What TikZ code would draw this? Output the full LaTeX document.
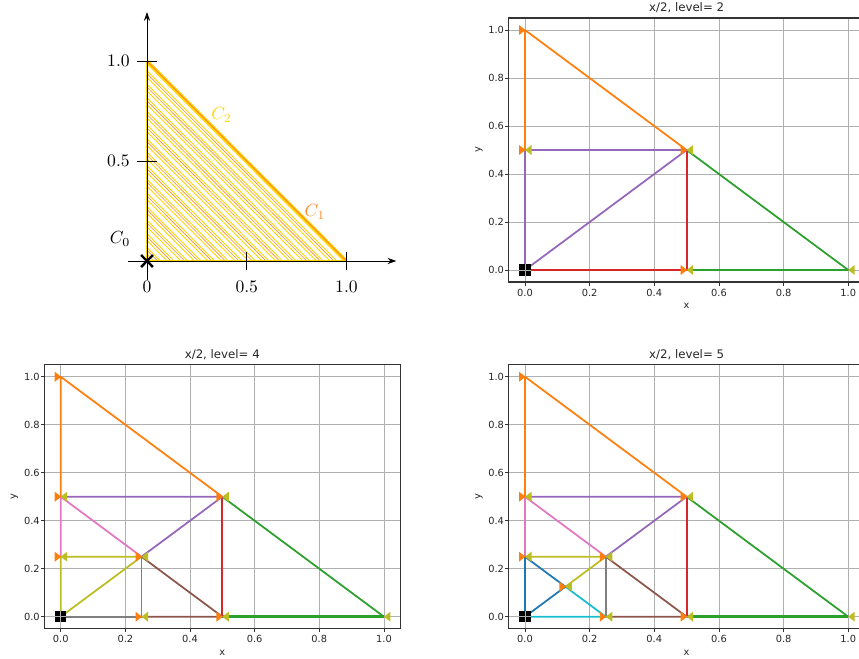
\documentclass[tikz,border=0pt]{standalone}
\usepackage{fontspec}
\newfontfamily\mplfont{DejaVu Sans}
\usetikzlibrary{arrows.meta}

\definecolor{tabblue}{HTML}{1F77B4}
\definecolor{taborange}{HTML}{FF7F0E}
\definecolor{tabgreen}{HTML}{2CA02C}
\definecolor{tabred}{HTML}{D62728}
\definecolor{tabpurple}{HTML}{9467BD}
\definecolor{tabbrown}{HTML}{8C564B}
\definecolor{tabpink}{HTML}{E377C2}
\definecolor{tabgray}{HTML}{7F7F7F}
\definecolor{tabolive}{HTML}{BCBD22}
\definecolor{tabcyan}{HTML}{17BECF}
\definecolor{gridgray}{HTML}{B0B0B0}
\definecolor{hatchyellow}{RGB}{255,214,0}
\definecolor{hatchorange}{RGB}{255,140,40}

% grid, ticks and labels of one matplotlib panel
\newcommand{\mplframe}[1]{%
  \foreach \v [count=\i] in {0.0,0.2,0.4,0.6,0.8,1.0} {
    \draw[gridline] (\v,-0.05) -- (\v,1.05);
    \draw[gridline] (-0.05,\v) -- (1.05,\v);
    \draw[mpltick] (\v,-0.05) -- ++(0,-0.07cm);
    \draw[mpltick] (-0.05,\v) -- ++(-0.07cm,0);
    \node[ticklabel, anchor=east] (ylab\i) at ([xshift=-0.09cm]-0.05,\v) {\v};
    \node[ticklabel] (xlab\i) at ([yshift=-0.21cm]\v,-0.05) {\v};
  }
  \node[ticklabel] (xname) at ([yshift=-0.48cm]0.5,-0.05) {x};
  \node[ticklabel, rotate=90] (yname) at ([xshift=-0.6cm]-0.05,0.5) {y};
  \node[titlelabel] (title) at ([yshift=0.2cm]0.5,1.05) {#1};
}
\newcommand{\mplspines}{\draw[spine] (-0.05,-0.05) rectangle (1.05,1.05);}
% vertex markers
\newcommand{\orangemark}[2]{\fill[taborange] (#1,#2) ++(-0.12cm,0.1cm) -- ++(0.13cm,-0.1cm) -- ++(-0.13cm,-0.1cm) -- cycle;}
\newcommand{\olivemark}[2]{\fill[tabolive] (#1,#2) ++(0.13cm,0.1cm) -- ++(-0.13cm,-0.1cm) -- ++(0.13cm,-0.1cm) -- cycle;}
\newcommand{\bothmarks}[2]{\orangemark{#1}{#2}\olivemark{#1}{#2}}
\newcommand{\startmark}{%
  \fill[black] (0,0) ++(-0.115cm,-0.115cm) rectangle ++(0.23cm,0.23cm);
  \draw[gridline] (0,0) ++(-0.115cm,0) -- ++(0.23cm,0);
  \draw[gridline] (0,0) ++(0,-0.115cm) -- ++(0,0.23cm);}

\begin{document}
\begin{tikzpicture}[
    x=0.02cm, y=-0.02cm,
    data/.style={line width=1pt, line join=round},
    gridline/.style={gridgray, line width=0.5pt},
    mpltick/.style={black!80, line width=0.45pt},
    spine/.style={black!80, line width=0.65pt},
    ticklabel/.style={font=\mplfont\fontsize{5.6}{6.7}\selectfont, inner sep=0pt, text=black!85},
    titlelabel/.style={font=\mplfont\fontsize{6.7}{8}\selectfont, inner sep=0pt, text=black!85},
    axisarrow/.style={-{Stealth[length=5pt,width=3.5pt]}, line width=0.5pt}
]
\useasboundingbox (0,0) rectangle (859,659);

% ---------- sketch of the simplex ----------
\begin{scope}[shift={(147,261)}, x=3.99cm, y=4cm]
  % hatching
  \foreach \k in {1,...,29}
    \draw[hatchyellow, line width=0.5pt] (0,{\k*0.034}) -- ({\k*0.034},0);
  \foreach \k in {1,...,14}
    \draw[hatchorange, line width=0.35pt] (0,{\k*0.068-0.015}) -- ({\k*0.068-0.015},0);
  \draw[hatchyellow, line width=0.8pt] (0,1) -- (0,0) -- (1,0);
  \draw[hatchyellow, line width=1.8pt] (0,1) -- (1,0);
  \draw[hatchorange, line width=0.6pt] (0,1) -- (1,0);

  % axes
  \coordinate (o) at (0,0);
  \coordinate (xend) at (1.25,0);
  \coordinate (yend) at (0,1.245);
  \draw[axisarrow] (-0.095,0) -- (xend);
  \draw[axisarrow] (0,-0.095) -- (yend);
  \draw[line width=0.4pt] (0.5,-0.045) -- (0.5,0.045);
  \draw[line width=0.4pt] (1,-0.045) -- (1,0.045);
  \draw[line width=0.4pt] (-0.05,0.5) -- (0.05,0.5);
  \draw[line width=0.4pt] (-0.05,1) -- (0.05,1);

  \node[anchor=east, inner sep=0pt] (ly1) at (-0.085,1) {1.0};
  \node[anchor=east, inner sep=0pt] (ly5) at (-0.085,0.5) {0.5};
  \node[inner sep=0pt] (lx0) at (0,-0.128) {0};
  \node[inner sep=0pt] (lx5) at (0.5,-0.128) {0.5};
  \node[inner sep=0pt] (lx1) at (1,-0.128) {1.0};

  \node (c0) at (-0.135,0.11) {$C_0$};
  \node[text=hatchyellow] (c2) at (0.374,0.73) {$C_2$};
  \node[text=hatchorange] (c1) at (0.842,0.246) {$C_1$};

  \draw[line width=1.4pt] (-0.03,-0.03) -- (0.03,0.03);
  \draw[line width=1.4pt] (-0.03,0.03) -- (0.03,-0.03);
\end{scope}

% ---------- level 2 ----------
\begin{scope}[shift={(525,270)}, x=6.466cm, y=4.8cm]
  \mplframe{x/2, level= 2}
  \draw[data, taborange] (0,0.5) -- (0,1) -- (0.5,0.5);
  \draw[data, tabgreen] (0.5,0.5) -- (1,0) -- (0.5,0);
  \draw[data, tabred] (0,0) -- (0.5,0) -- (0.5,0.5);
  \draw[data, tabpurple] (0,0.5) -- (0.5,0.5) -- (0,0) -- cycle;
  \orangemark{0}{1}
  \bothmarks{0}{0.5}
  \bothmarks{0.5}{0.5}
  \bothmarks{0.5}{0}
  \olivemark{1}{0}
  \startmark
  \mplspines
\end{scope}

% ---------- level 4 ----------
\begin{scope}[shift={(60.7,616.7)}, x=6.466cm, y=4.8cm]
  \mplframe{x/2, level= 4}
  \draw[data, taborange] (0,0.5) -- (0,1) -- (0.5,0.5);
  \draw[data, tabgreen] (0.5,0.5) -- (1,0);
  \draw[data, tabgreen, line width=1.4pt] (1,0) -- (0.5,0);
  \draw[data, tabred] (0.5,0) -- (0.5,0.5);
  \draw[data, tabpurple] (0,0.5) -- (0.5,0.5) -- (0.25,0.25);
  \draw[data, tabpink] (0,0.25) -- (0,0.5) -- (0.25,0.25);
  \draw[data, tabolive] (0,0) -- (0,0.25) -- (0.25,0.25) -- cycle;
  \draw[data, tabbrown] (0.25,0.25) -- (0.5,0) -- (0.25,0);
  \draw[data, tabgray] (0,0) -- (0.25,0) -- (0.25,0.25);
  \orangemark{0}{1}
  \bothmarks{0}{0.5}
  \bothmarks{0.5}{0.5}
  \bothmarks{0}{0.25}
  \bothmarks{0.25}{0.25}
  \bothmarks{0.25}{0}
  \bothmarks{0.5}{0}
  \olivemark{1}{0}
  \startmark
  \mplspines
\end{scope}

% ---------- level 5 ----------
\begin{scope}[shift={(525,616.7)}, x=6.466cm, y=4.8cm]
  \mplframe{x/2, level= 5}
  \draw[data, taborange] (0,0.5) -- (0,1) -- (0.5,0.5);
  \draw[data, tabgreen] (0.5,0.5) -- (1,0);
  \draw[data, tabgreen, line width=1.4pt] (1,0) -- (0.5,0);
  \draw[data, tabred] (0.5,0) -- (0.5,0.5);
  \draw[data, tabpurple] (0,0.5) -- (0.5,0.5) -- (0.25,0.25);
  \draw[data, tabpink] (0,0.25) -- (0,0.5) -- (0.25,0.25);
  \draw[data, tabolive] (0,0.25) -- (0.25,0.25) -- (0.125,0.125);
  \draw[data, tabbrown] (0.25,0.25) -- (0.5,0) -- (0.25,0);
  \draw[data, tabgray] (0.25,0) -- (0.25,0.25);
  \draw[data, tabcyan] (0,0) -- (0.25,0) -- (0.125,0.125);
  \draw[data, tabblue] (0,0) -- (0,0.25) -- (0.125,0.125) -- cycle;
  \orangemark{0}{1}
  \bothmarks{0}{0.5}
  \bothmarks{0.5}{0.5}
  \bothmarks{0}{0.25}
  \bothmarks{0.25}{0.25}
  \bothmarks{0.125}{0.125}
  \bothmarks{0.25}{0}
  \bothmarks{0.5}{0}
  \olivemark{1}{0}
  \startmark
  \mplspines
\end{scope}
\end{tikzpicture}
\end{document}
